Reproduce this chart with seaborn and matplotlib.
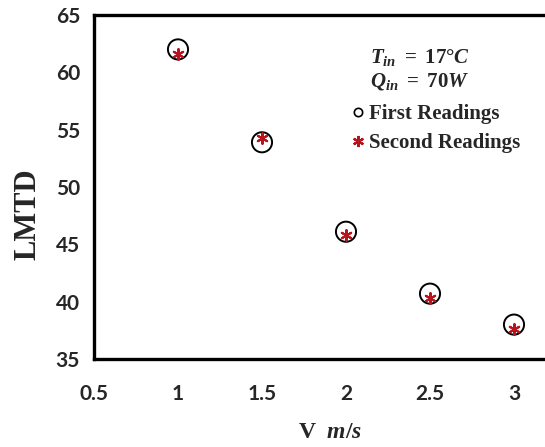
import matplotlib
matplotlib.use("Agg")
import matplotlib.pyplot as plt
from matplotlib.lines import Line2D
import seaborn as sns
import pandas as pd

# Air velocity (m/s) and log-mean temperature difference for two test runs
velocity = [1.0, 1.5, 2.0, 2.5, 3.0]
lmtd_first = [62.0, 53.9, 46.1, 40.7, 38.0]
lmtd_second = [61.6, 54.3, 45.8, 40.3, 37.6]
x_ticks = [0.5, 1, 1.5, 2, 2.5, 3]
y_ticks = [35, 40, 45, 50, 55, 60, 65]

df = pd.DataFrame({"V": velocity, "first": lmtd_first, "second": lmtd_second})

sns.set_style("white")
plt.rcParams["font.family"] = ["Lato", "DejaVu Sans"]
plt.rcParams["mathtext.fontset"] = "custom"
plt.rcParams["mathtext.rm"] = "Liberation Serif:bold"
plt.rcParams["mathtext.it"] = "Liberation Serif:italic:bold"
plt.rcParams["mathtext.bf"] = "Liberation Serif:bold"

W, H = 545, 447
fig = plt.figure(figsize=(W / 100, H / 100), dpi=100)
ax = fig.add_axes([94 / W, (H - 359) / H, (W - 94) / W, (359 - 15) / H])

red = "#B8141E"
asterisk = (6, 2, 0)

sns.scatterplot(data=df, x="V", y="first", ax=ax, marker="o", s=210,
                facecolor="none", edgecolor="black", linewidth=1.4, zorder=3)
sns.scatterplot(data=df, x="V", y="second", ax=ax, marker=asterisk, s=60,
                color=red, edgecolor=red, linewidth=1.5, zorder=4)

ax.set_xlim(0.5, 0.5 + (W - 94) / 168)
ax.set_ylim(35, 65)
ax.set_xticks(x_ticks)
ax.set_xticklabels([f"{t:g}" for t in x_ticks])
ax.set_yticks(y_ticks)
ax.tick_params(axis="both", direction="out", length=5, width=1.5, color="black",
               labelsize=15, pad=5)
ax.tick_params(axis="x", pad=13)
for lab in ax.get_xticklabels() + ax.get_yticklabels():
    lab.set_fontweight("bold")

for side in ["left", "bottom", "top"]:
    ax.spines[side].set_visible(True)
    ax.spines[side].set_linewidth(2.4)
    ax.spines[side].set_color("black")
ax.spines["right"].set_visible(False)

ax.set_ylabel("LMTD", fontfamily="Liberation Serif", fontweight="bold",
              fontsize=22)
ax.yaxis.set_label_coords((42 - 94) / (W - 94), (359 - 214) / 344)
ax.set_xlabel(r"V  $\mathit{m/s}$", fontfamily="Liberation Serif",
              fontweight="bold", fontsize=17)
ax.xaxis.set_label_coords((330 - 94) / (W - 94), -(422 - 359) / 344)

fig.text(370 / W, 1 - 57 / H, r"$T_{in}\ =\ 17°C$", fontsize=15,
         va="center", ha="left")
fig.text(370 / W, 1 - 81 / H, r"$Q_{in}\ =\ 70W$", fontsize=15,
         va="center", ha="left")

handles = [
    Line2D([], [], linestyle="none", marker="o", markersize=6,
           markerfacecolor="none", markeredgecolor="black", markeredgewidth=1.2,
           label="First Readings"),
    Line2D([], [], linestyle="none", marker=asterisk, markersize=8,
           color=red, markeredgewidth=1.6, label="Second Readings"),
]
ax.legend(handles=handles, loc="upper left",
          bbox_to_anchor=(352 / W, 1 - 104 / H), bbox_transform=fig.transFigure,
          frameon=False, handlelength=0.6, handletextpad=0.2,
          labelspacing=0.45, borderpad=0, borderaxespad=0,
          prop={"family": "Liberation Serif", "weight": "bold", "size": 15})

fig.savefig("out.png", dpi=100)
